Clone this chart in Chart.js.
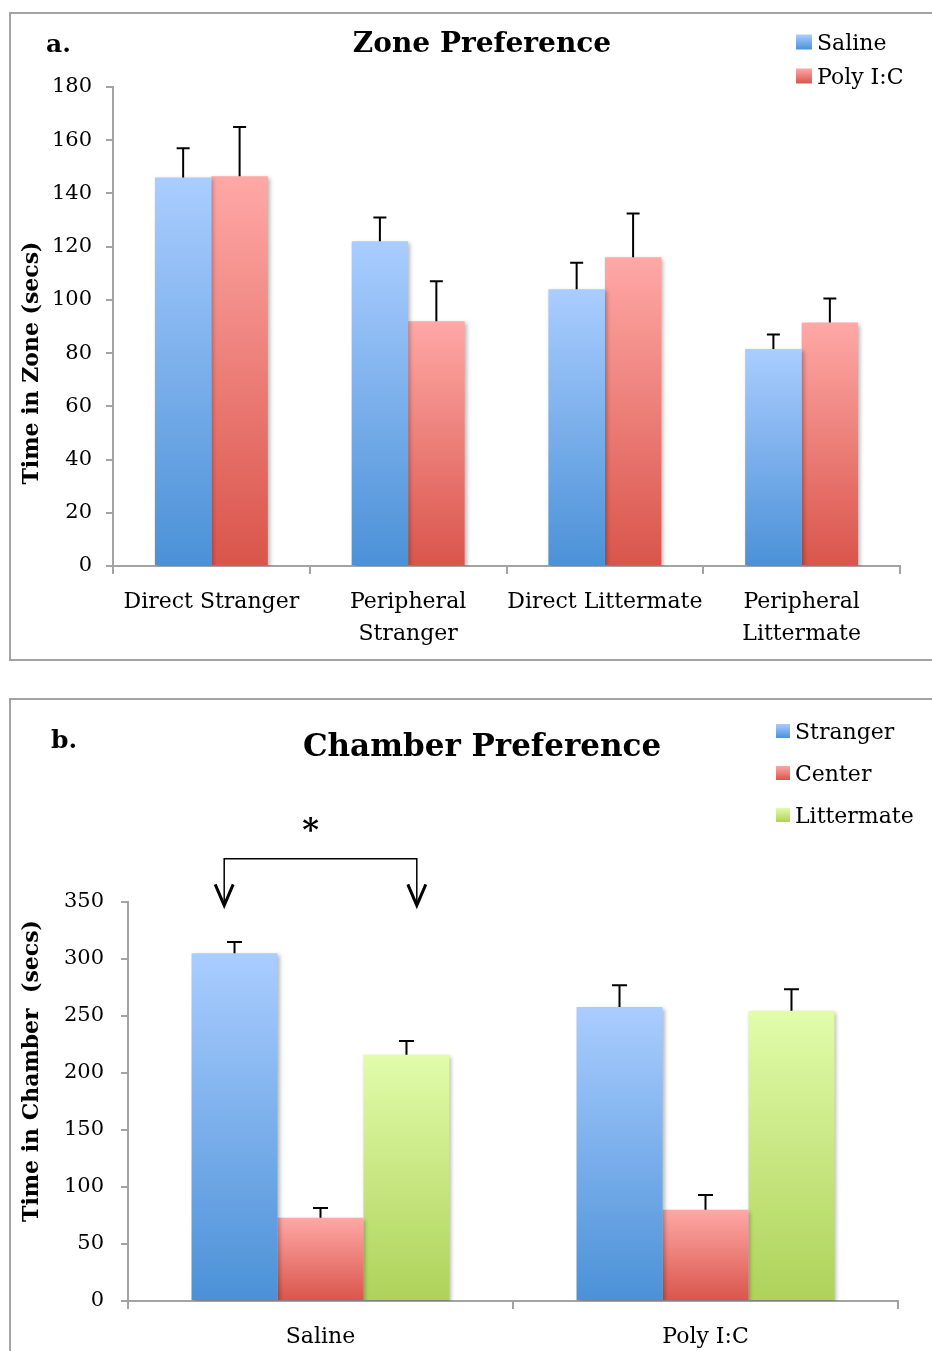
<!DOCTYPE html>
<html>
<head>
<meta charset="utf-8">
<script src="https://cdn.jsdelivr.net/npm/chart.js@4.4.1/dist/chart.umd.min.js"></script>
<style>
    html, body { margin: 0; padding: 0; background: #fff; overflow: hidden; }
    body { width: 932px; height: 1351px; position: relative; }
    .frame { position: absolute; left: 9px; width: 960px; border: 2px solid #a3a3a3; box-sizing: border-box; }
    #frameA { top: 12px; height: 649px; }
    #frameB { top: 698px; height: 700px; }
    canvas { position: absolute; left: 9px; }
    #zoneChart { top: 12px; }
    #chamberChart { top: 698px; }
</style>
</head>
<body>
<div class="frame" id="frameA"></div>
<div class="frame" id="frameB"></div>
<canvas id="zoneChart" width="923" height="648"></canvas>
<canvas id="chamberChart" width="923" height="653"></canvas>
<script>
// panel a: zone preference
var zoneLabels = [["Direct Stranger"], ["Peripheral", "Stranger"], ["Direct Littermate"], ["Peripheral", "Littermate"]];
var zoneSaline = [146, 122, 104, 81.5];
var zoneSalineErr = [11, 9, 10, 5.5];
var zonePoly = [146.5, 92, 116, 91.5];
var zonePolyErr = [18.5, 15, 16.5, 9];
var zoneMax = 180;
var zoneStep = 20;

// panel b: chamber preference
var chamberLabels = ["Saline", "Poly I:C"];
var chamberStranger = [305, 258];
var chamberStrangerErr = [10, 19];
var chamberCenter = [73, 80];
var chamberCenterErr = [8.5, 13];
var chamberLitter = [216, 254.5];
var chamberLitterErr = [12, 19];
var chamberMax = 350;
var chamberStep = 50;

var SERIF = "'DejaVu Serif', serif";
var AXIS_GREY = "#a3a3a3";
var BLUE = ["#aacdff", "#4b91d7"];
var RED = ["#ffa8a6", "#d9554b"];
var GREEN = ["#e2fcaa", "#aed25a"];

function barGradient(colors) {
    return function (context) {
        var chart = context.chart;
        if (!chart.chartArea || context.type !== "data") {
            return colors[1];
        }
        var y = chart.scales.y;
        var g = chart.ctx.createLinearGradient(0, y.getPixelForValue(context.raw), 0, y.getPixelForValue(0));
        g.addColorStop(0, colors[0]);
        g.addColorStop(1, colors[1]);
        return g;
    };
}

// soft shadow under bars, then error bars on top
var barExtras = {
    id: "barExtras",
    beforeDatasetsDraw: function (chart) {
        var ctx = chart.ctx;
        ctx.save();
        ctx.shadowColor = "rgba(0,0,0,0.28)";
        ctx.shadowBlur = 4;
        ctx.shadowOffsetX = 2;
        ctx.shadowOffsetY = 2;
    },
    afterDatasetsDraw: function (chart) {
        var ctx = chart.ctx;
        ctx.restore();
        var y = chart.scales.y;
        var cap = chart.options.plugins.errorCap || 14;
        ctx.save();
        ctx.strokeStyle = "#000";
        ctx.lineWidth = 2;
        chart.data.datasets.forEach(function (ds, i) {
            var meta = chart.getDatasetMeta(i);
            meta.data.forEach(function (bar, j) {
                var top = y.getPixelForValue(ds.data[j] + ds.errors[j]);
                ctx.beginPath();
                ctx.moveTo(bar.x, bar.y);
                ctx.lineTo(bar.x, top);
                ctx.moveTo(bar.x - cap / 2, top);
                ctx.lineTo(bar.x + cap / 2, top);
                ctx.stroke();
            });
        });
        ctx.restore();
    }
};

// title, panel letter, y title and legend
var decorations = {
    id: "decorations",
    afterDraw: function (chart) {
        var ctx = chart.ctx;
        var d = chart.options.plugins.decor;
        ctx.save();
        ctx.fillStyle = "#000";
        ctx.textBaseline = "middle";

        ctx.font = "bold " + d.titleSize + "px " + SERIF;
        ctx.textAlign = "center";
        ctx.fillText(d.title, d.titleX, d.titleY);

        ctx.font = "bold 25px " + SERIF;
        ctx.textAlign = "left";
        ctx.fillText(d.letter, d.letterX, d.letterY);

        ctx.save();
        ctx.translate(d.yTitleX, d.yTitleY);
        ctx.rotate(-Math.PI / 2);
        ctx.textAlign = "center";
        ctx.font = "bold 22px " + SERIF;
        ctx.fillText(d.yTitle, 0, 0);
        ctx.restore();

        ctx.font = "22px " + SERIF;
        ctx.textAlign = "left";
        chart.data.datasets.forEach(function (ds, i) {
            var cy = d.legendY + i * d.legendGap;
            var g = ctx.createLinearGradient(0, cy - d.swatch / 2, 0, cy + d.swatch / 2);
            g.addColorStop(0, ds.colors[0]);
            g.addColorStop(1, ds.colors[1]);
            ctx.fillStyle = g;
            ctx.fillRect(d.legendX, cy - d.swatch / 2, d.swatchW, d.swatch);
            ctx.fillStyle = "#000";
            ctx.fillText(ds.label, d.legendX + d.swatchW + 5, cy + 2);
        });
        ctx.restore();
    }
};

// significance bracket between saline stranger and saline littermate
var bracket = {
    id: "bracket",
    afterDraw: function (chart) {
        if (!chart.options.plugins.bracket) return;
        var ctx = chart.ctx;
        var y = chart.scales.y;
        var left = chart.getDatasetMeta(0).data[0];
        var right = chart.getDatasetMeta(2).data[0];
        var x1 = left.x - left.width * 0.12;
        var x2 = right.x + right.width * 0.12;
        var yLine = y.getPixelForValue(388);
        var yTip = y.getPixelForValue(347);
        ctx.save();
        ctx.strokeStyle = "#000";
        ctx.lineWidth = 1.5;
        ctx.beginPath();
        ctx.moveTo(x1, yTip - 2);
        ctx.lineTo(x1, yLine);
        ctx.lineTo(x2, yLine);
        ctx.lineTo(x2, yTip - 2);
        ctx.stroke();
        ctx.lineWidth = 3;
        [x1, x2].forEach(function (x) {
            ctx.beginPath();
            ctx.moveTo(x - 9, yTip - 21);
            ctx.lineTo(x, yTip);
            ctx.lineTo(x + 9, yTip - 21);
            ctx.stroke();
        });
        ctx.fillStyle = "#000";
        ctx.font = "bold 32px " + SERIF;
        ctx.textAlign = "center";
        ctx.textBaseline = "middle";
        ctx.fillText("*", (x1 + x2) / 2 - 10, y.getPixelForValue(412));
        ctx.restore();
    }
};

function makeScales(max, step, yWidth, yPad, xHeight) {
    return {
        x: {
            afterFit: function (s) { s.height = xHeight; },
            grid: { display: true, drawOnChartArea: false, offset: true, tickLength: 8, color: AXIS_GREY, lineWidth: 2 },
            border: { display: true, color: AXIS_GREY, width: 2 },
            ticks: { color: "#000", font: { family: SERIF, size: 22, lineHeight: 1.45 }, padding: 12, maxRotation: 0, autoSkip: false }
        },
        y: {
            min: 0,
            max: max,
            afterFit: function (s) { s.width = yWidth; },
            grid: { display: true, drawOnChartArea: false, tickLength: 7, color: AXIS_GREY, lineWidth: 2 },
            border: { display: true, color: AXIS_GREY, width: 2 },
            ticks: { stepSize: step, color: "#000", font: { family: SERIF, size: 21 }, padding: yPad }
        }
    };
}

document.addEventListener("DOMContentLoaded", function () {
    new Chart(document.getElementById("zoneChart").getContext("2d"), {
        type: "bar",
        data: {
            labels: zoneLabels,
            datasets: [
                { label: "Saline", data: zoneSaline, errors: zoneSalineErr, colors: BLUE, backgroundColor: barGradient(BLUE), borderWidth: 0 },
                { label: "Poly I:C", data: zonePoly, errors: zonePolyErr, colors: RED, backgroundColor: barGradient(RED), borderWidth: 0 }
            ]
        },
        options: {
            responsive: false,
            animation: false,
            datasets: { bar: { categoryPercentage: 0.574, barPercentage: 1 } },
            layout: { padding: { left: 0, top: 75, right: 32, bottom: 0 } },
            scales: makeScales(zoneMax, zoneStep, 104, 14, 94),
            plugins: {
                legend: { display: false },
                tooltip: { enabled: false },
                errorCap: 13,
                decor: {
                    title: "Zone Preference", titleSize: 28, titleX: 473, titleY: 33,
                    letter: "a.", letterX: 37, letterY: 33,
                    yTitle: "Time in Zone (secs)", yTitleX: 23, yTitleY: 351,
                    legendX: 787, legendY: 30, legendGap: 34, swatch: 15, swatchW: 16
                }
            }
        },
        plugins: [barExtras, decorations]
    });

    new Chart(document.getElementById("chamberChart").getContext("2d"), {
        type: "bar",
        data: {
            labels: chamberLabels,
            datasets: [
                { label: "Stranger", data: chamberStranger, errors: chamberStrangerErr, colors: BLUE, backgroundColor: barGradient(BLUE), borderWidth: 0 },
                { label: "Center", data: chamberCenter, errors: chamberCenterErr, colors: RED, backgroundColor: barGradient(RED), borderWidth: 0 },
                { label: "Littermate", data: chamberLitter, errors: chamberLitterErr, colors: GREEN, backgroundColor: barGradient(GREEN), borderWidth: 0 }
            ]
        },
        options: {
            responsive: false,
            animation: false,
            datasets: { bar: { categoryPercentage: 0.67, barPercentage: 1 } },
            layout: { padding: { left: 0, top: 204, right: 34, bottom: 0 } },
            scales: makeScales(chamberMax, chamberStep, 119, 17, 50),
            plugins: {
                legend: { display: false },
                tooltip: { enabled: false },
                errorCap: 15,
                bracket: true,
                decor: {
                    title: "Chamber Preference", titleSize: 31, titleX: 473, titleY: 50,
                    letter: "b.", letterX: 42, letterY: 43,
                    yTitle: "Time in Chamber  (secs)", yTitleX: 23, yTitleY: 373,
                    legendX: 767, legendY: 33, legendGap: 42, swatch: 14, swatchW: 14
                }
            }
        },
        plugins: [barExtras, decorations, bracket]
    });
});
</script>
</body>
</html>
